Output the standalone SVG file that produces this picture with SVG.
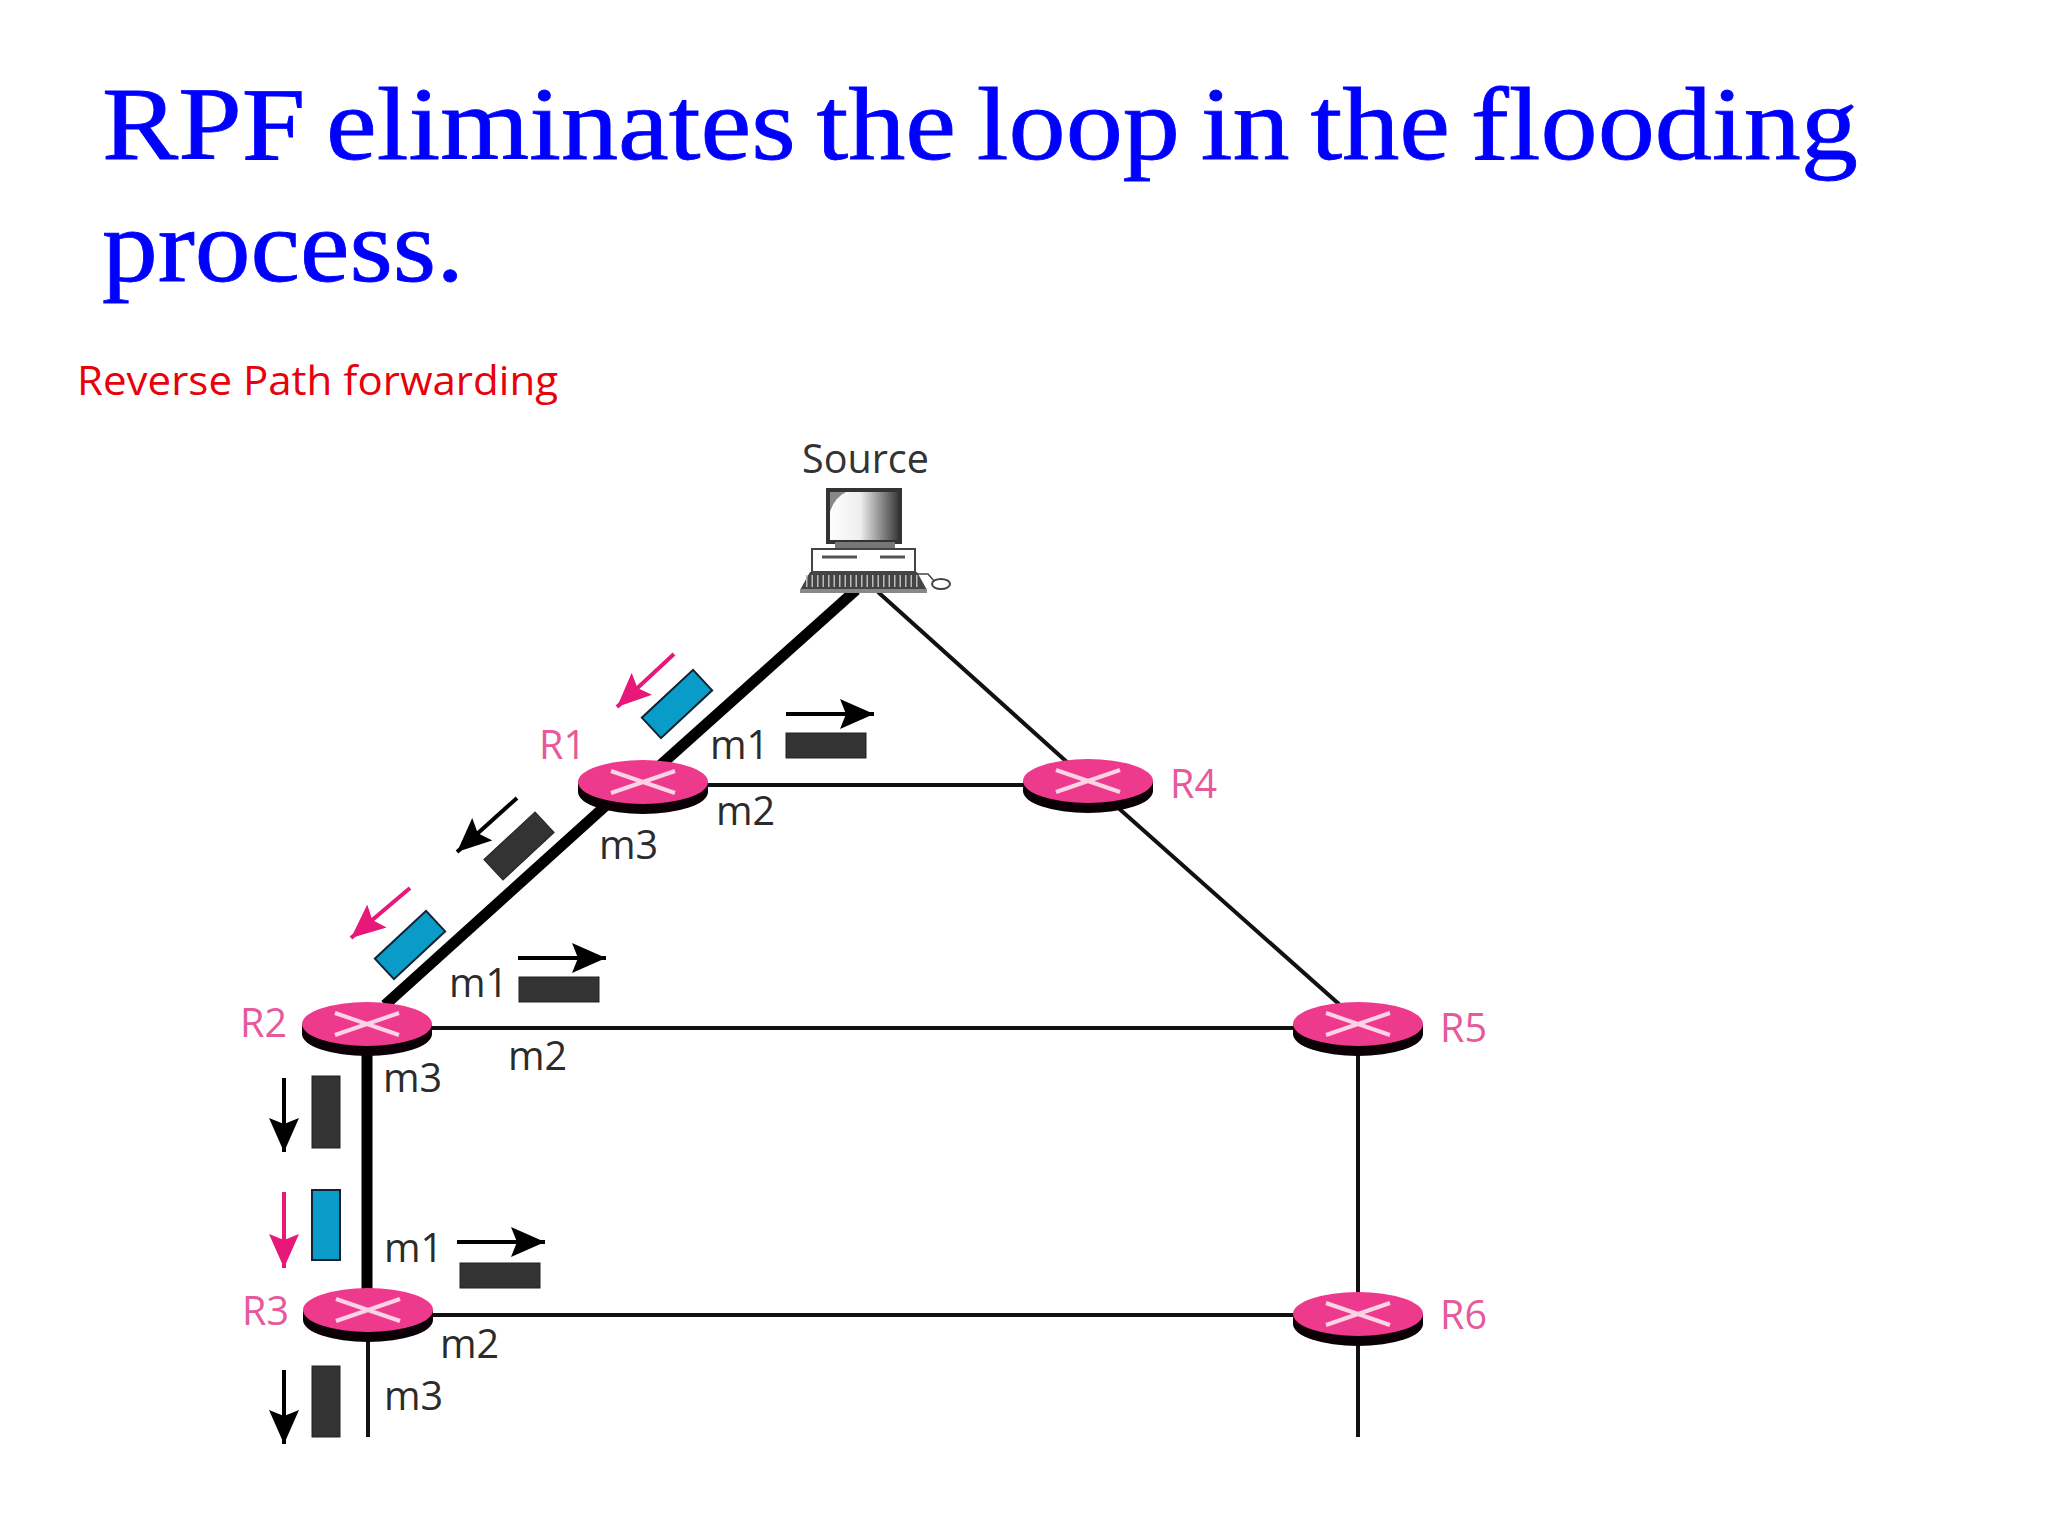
<svg xmlns="http://www.w3.org/2000/svg" width="2048" height="1536" viewBox="0 0 2048 1536">
<defs>
<linearGradient id="scr" x1="0" x2="1" y1="0" y2="0"><stop offset="0" stop-color="#fff"/><stop offset="0.45" stop-color="#eee"/><stop offset="1" stop-color="#333"/></linearGradient>
<g id="router">
<path d="M-65 0V10A65 22 0 0 0 65 10V0Z" fill="#0a0005"/>
<ellipse rx="65" ry="22" fill="#ee3a8c"/>
<path d="M-32 -11L32 11M-32 11L32 -11" stroke="#fbd3e4" stroke-width="4" fill="none"/>
</g>
<marker id="ab" markerUnits="userSpaceOnUse" markerWidth="36" markerHeight="30" refX="34" refY="15" orient="auto"><path d="M0 0L34 15L0 30L6 15Z" fill="#000"/></marker>
<marker id="ap" markerUnits="userSpaceOnUse" markerWidth="36" markerHeight="30" refX="34" refY="15" orient="auto"><path d="M0 0L34 15L0 30L6 15Z" fill="#e8177a"/></marker>
</defs>
<style>
.t{font-family:"Liberation Serif",serif;font-size:103px;fill:#0000ff;stroke:#0000ff;stroke-width:0.8px;word-spacing:-7px}
.l{font-family:"Open Sans",sans-serif;font-size:39.5px;fill:#2b2b2b}
.r{font-family:"Open Sans",sans-serif;font-size:39.5px;fill:#e65a9c}
.thick{stroke:#000;stroke-width:11;fill:none}
.thin{stroke:#111;stroke-width:4;fill:none}
.ba{stroke:#000;stroke-width:4;fill:none;marker-end:url(#ab)}
.pa{stroke:#e8177a;stroke-width:4;fill:none;marker-end:url(#ap)}
.pk{fill:#333;stroke:#222;stroke-width:1}
.pc{fill:#0a9cc8;stroke:#123;stroke-width:2}
</style>
<g id="title">
<text class="t" x="102" y="159" textLength="1756" lengthAdjust="spacingAndGlyphs">RPF eliminates the loop in the flooding</text>
<text class="t" x="102" y="281" textLength="362" lengthAdjust="spacingAndGlyphs">process.</text>
</g>
<text id="subtitle" x="77" y="395" font-family="Open Sans, sans-serif" font-size="40" fill="#e8000b" textLength="481" lengthAdjust="spacingAndGlyphs">Reverse Path forwarding</text>
<g id="connectors">
<path class="thick" d="M856 590L655 770"/>
<path class="thick" d="M612 800L385 1005"/>
<path class="thick" d="M367 1024V1310"/>
<path class="thin" d="M878 592L1088 781L1340 1005"/>
<path class="thin" d="M643 785H1088"/>
<path class="thin" d="M367 1028H1358"/>
<path class="thin" d="M367 1315H1358"/>
<path class="thin" d="M1358 1024V1314"/>
<path class="thin" d="M368 1310V1437"/>
<path class="thin" d="M1358 1314V1437"/>
</g>
<g id="packets">
<rect class="pc" x="-35" y="-14" width="70" height="28" transform="translate(677 704) rotate(-43)"/>
<rect class="pk" x="-35" y="-14" width="70" height="28" transform="translate(519 846) rotate(-43)"/>
<rect class="pc" x="-35" y="-14" width="70" height="28" transform="translate(410 945) rotate(-43)"/>
<rect class="pk" x="786" y="733" width="80" height="25"/>
<rect class="pk" x="519" y="977" width="80" height="25"/>
<rect class="pk" x="460" y="1263" width="80" height="25"/>
<rect class="pk" x="312" y="1076" width="28" height="72"/>
<rect class="pc" x="312" y="1190" width="28" height="70"/>
<rect class="pk" x="312" y="1366" width="28" height="71"/>
<path class="pa" d="M674 654L617 707"/>
<path class="ba" d="M517 798L457 852"/>
<path class="pa" d="M410 888L351 938"/>
<path class="ba" d="M786 714H874"/>
<path class="ba" d="M518 958H606"/>
<path class="ba" d="M457 1242H545"/>
<path class="ba" d="M284 1078V1152"/>
<path class="pa" d="M284 1192V1268"/>
<path class="ba" d="M284 1370V1444"/>
</g>
<g id="source">
<rect x="828" y="490" width="72" height="52" fill="url(#scr)" stroke="#333" stroke-width="4"/>
<path d="M830 492H846Q834 498 830 512Z" fill="#888"/>
<rect x="835" y="542" width="60" height="7" fill="#777"/>
<rect x="812" y="549" width="103" height="23" fill="#fff" stroke="#444" stroke-width="2"/>
<path d="M822 557H857M880 557H905" stroke="#555" stroke-width="3"/>
<path d="M810 572H917L927 590H800Z" fill="#444"/>
<path d="M806 581H921" stroke="#bbb" stroke-width="12" stroke-dasharray="1.5 4" fill="none"/>
<rect x="800" y="589" width="127" height="4" fill="#888"/>
<path d="M905 574H928L935 582" fill="none" stroke="#444" stroke-width="1.5"/>
<ellipse cx="941" cy="584" rx="9" ry="5" fill="#fff" stroke="#444" stroke-width="2"/>
<text x="802" y="473" font-family="Open Sans, sans-serif" font-size="39.5" fill="#333">Source</text>
</g>
<g id="R1"><use href="#router" x="643" y="782"/><text class="r" x="539" y="759">R1</text></g>
<g id="R4"><use href="#router" x="1088" y="781"/><text class="r" x="1170" y="798">R4</text></g>
<g id="R2"><use href="#router" x="367" y="1024"/><text class="r" x="240" y="1037">R2</text></g>
<g id="R5"><use href="#router" x="1358" y="1024"/><text class="r" x="1440" y="1042">R5</text></g>
<g id="R3"><use href="#router" x="368" y="1310"/><text class="r" x="242" y="1325">R3</text></g>
<g id="R6"><use href="#router" x="1358" y="1314"/><text class="r" x="1440" y="1329">R6</text></g>
<g id="labels">
<text class="l" x="710" y="759">m1</text>
<text class="l" x="716" y="825">m2</text>
<text class="l" x="599" y="859">m3</text>
<text class="l" x="449" y="997">m1</text>
<text class="l" x="508" y="1070">m2</text>
<text class="l" x="383" y="1092">m3</text>
<text class="l" x="384" y="1262">m1</text>
<text class="l" x="440" y="1358">m2</text>
<text class="l" x="384" y="1410">m3</text>
</g>
</svg>
